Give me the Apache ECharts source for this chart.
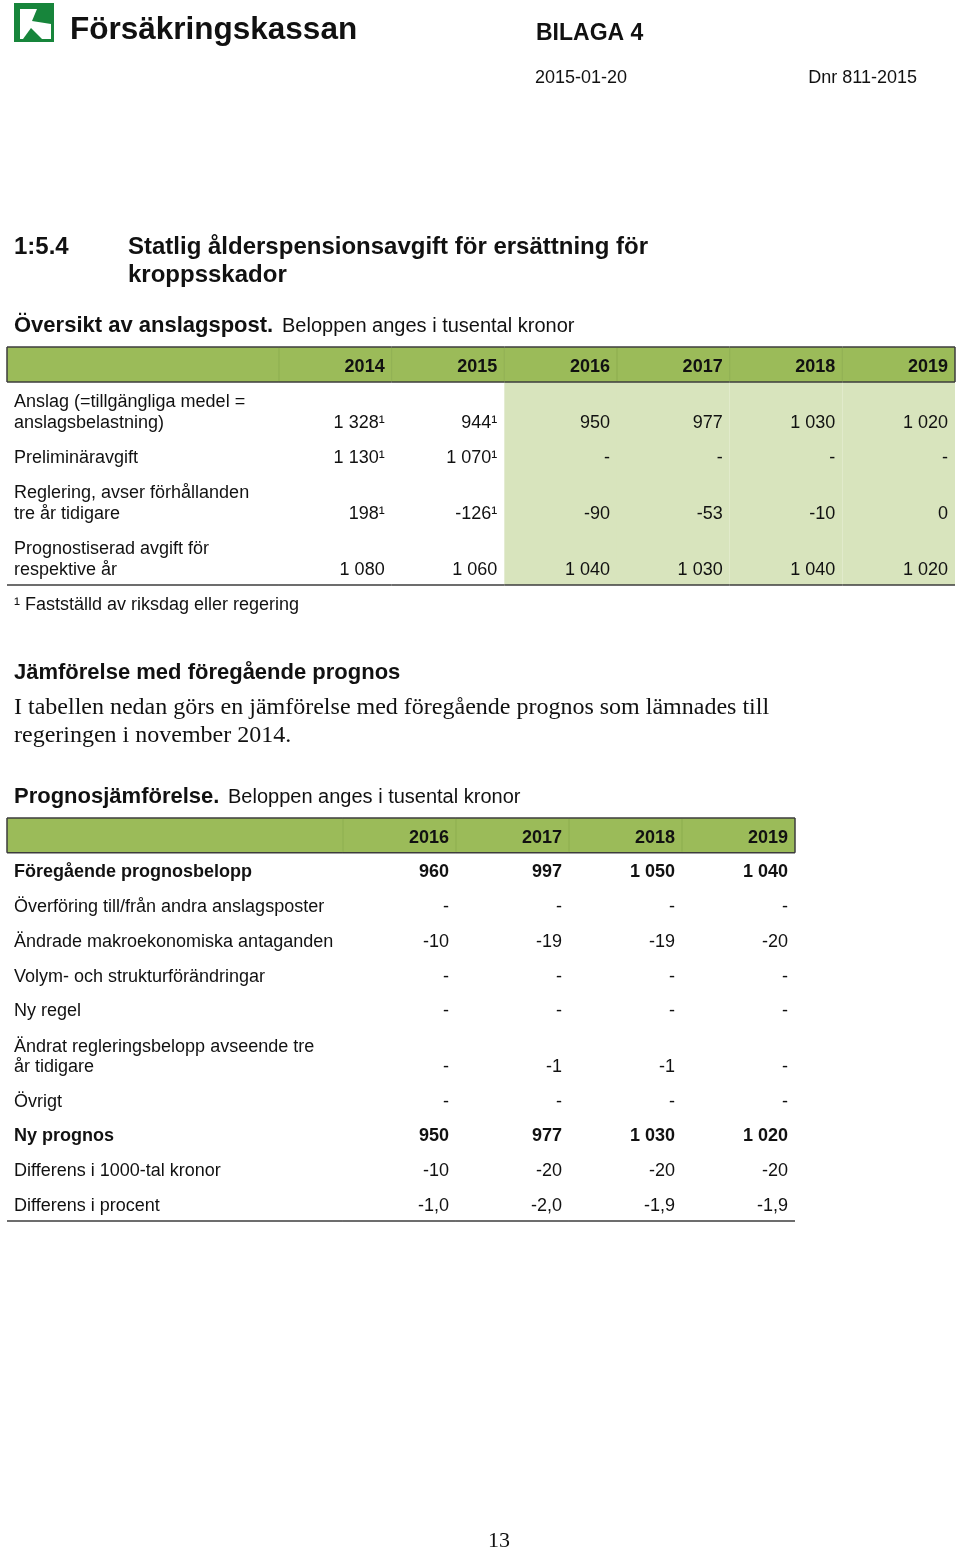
<!DOCTYPE html>
<html><head><meta charset="utf-8">
<script src="https://cdn.jsdelivr.net/npm/echarts@6/dist/echarts.min.js"></script>
<style>html,body{margin:0;padding:0;background:#fff}#c{width:960px;height:1551px}</style>
</head><body><div id="c"></div>
<script>
// ---------- DATA ----------
const years1 = ['2014', '2015', '2016', '2017', '2018', '2019'];
const rowLabels1 = [
  ['Anslag (=tillgängliga medel =', 'anslagsbelastning)'],
  ['Preliminäravgift'],
  ['Reglering, avser förhållanden', 'tre år tidigare'],
  ['Prognostiserad avgift för', 'respektive år']
];
const anslag = [1328, 944, 950, 977, 1030, 1020];
const preliminaravgift = [1130, 1070, null, null, null, null];
const reglering = [198, -126, -90, -53, -10, 0];
const prognostiserad = [1080, 1060, 1040, 1030, 1040, 1020];
const faststalldYears = ['2014', '2015'];
const faststalldRows = [0, 1, 2];
const prognosYears1 = ['2016', '2017', '2018', '2019'];

const years2 = ['2016', '2017', '2018', '2019'];
const rowLabels2 = [
  ['Föregående prognosbelopp'],
  ['Överföring till/från andra anslagsposter'],
  ['Ändrade makroekonomiska antaganden'],
  ['Volym- och strukturförändringar'],
  ['Ny regel'],
  ['Ändrat regleringsbelopp avseende tre', 'år tidigare'],
  ['Övrigt'],
  ['Ny prognos'],
  ['Differens i 1000-tal kronor'],
  ['Differens i procent']
];
const foregaende = [960, 997, 1050, 1040];
const overforing = [null, null, null, null];
const makro = [-10, -19, -19, -20];
const volym = [null, null, null, null];
const nyRegel = [null, null, null, null];
const andratReglering = [null, -1, -1, null];
const ovrigt = [null, null, null, null];
const nyPrognos = [950, 977, 1030, 1020];
const diffKronor = [-10, -20, -20, -20];
const diffProcent = [-1.0, -2.0, -1.9, -1.9];
const boldRows2 = [0, 7];

// ---------- STYLE ----------
const SANS = '"Liberation Sans", Arial, Helvetica, sans-serif';
const SERIF = '"Liberation Serif", "Times New Roman", serif';
const GREEN = '#9BBB59';
const LIGHT = '#D8E4BD';
const BORDER = '#3c3c3c';
const TXT = '#111';
const DY = 2;

function fmtInt(v) {
  if (v === null || v === undefined) return '-';
  const s = Math.abs(v).toString().replace(/\B(?=(\d{3})+(?!\d))/g, ' ');
  return (v < 0 ? '-' : '') + s;
}
function fmtDec(v) {
  if (v === null || v === undefined) return '-';
  return v.toFixed(1).replace('.', ',');
}

function rowEdgesFor(labels) {
  const e = [0, 1];
  labels.forEach(l => e.push(e[e.length - 1] + (l.length > 1 ? 1.6 : 1)));
  return e;
}

// ---------- TABLE 1 cells ----------
const rows1 = [anslag, preliminaravgift, reglering, prognostiserad];
const edges1 = rowEdgesFor(rowLabels1);
const L1 = 2.414;
const cells1 = [];
cells1.push({c: 0, r: 0, header: true, lines: []});
years1.forEach((y, i) => cells1.push({c: i + 1, r: 0, header: true, lines: [y], bold: true}));
rowLabels1.forEach((lab, r) => {
  cells1.push({c: 0, r: r + 1, lines: lab, last: r === rowLabels1.length - 1});
  years1.forEach((y, i) => {
    let t = fmtInt(rows1[r][i]);
    if (faststalldRows.includes(r) && faststalldYears.includes(y)) t += '¹';
    cells1.push({c: i + 1, r: r + 1, lines: [t], right: true,
      fill: prognosYears1.includes(y) ? LIGHT : null, last: r === rowLabels1.length - 1});
  });
});

// ---------- TABLE 2 cells ----------
const rows2 = [foregaende, overforing, makro, volym, nyRegel, andratReglering, ovrigt, nyPrognos, diffKronor, diffProcent];
const edges2 = rowEdgesFor(rowLabels2);
const L2 = 2.973;
const cells2 = [];
cells2.push({c: 0, r: 0, header: true, lines: []});
years2.forEach((y, i) => cells2.push({c: i + 1, r: 0, header: true, lines: [y], bold: true}));
rowLabels2.forEach((lab, r) => {
  const b = boldRows2.includes(r);
  const last = r === rowLabels2.length - 1;
  cells2.push({c: 0, r: r + 1, lines: lab, bold: b, last});
  years2.forEach((y, i) => {
    const v = rows2[r][i];
    const t = rows2[r] === diffProcent ? fmtDec(v) : fmtInt(v);
    cells2.push({c: i + 1, r: r + 1, lines: [t], right: true, bold: b, last});
  });
});

function makeRender(cells, L, edges, nCols) {
  return function (params, api) {
    const cell = cells[params.dataIndex];
    const x0u = cell.c === 0 ? 0 : L + cell.c - 1;
    const x1u = cell.c === 0 ? L : L + cell.c;
    const p0 = api.coord([x0u, edges[cell.r]]);
    const p1 = api.coord([x1u, edges[cell.r + 1]]);
    const x0 = p0[0], y0 = p0[1], x1 = p1[0], y1 = p1[1];
    const ch = [];
    const fill = cell.header ? GREEN : cell.fill;
    if (fill) ch.push({type: 'rect', z2: 0, shape: {x: x0, y: y0, width: x1 - x0, height: y1 - y0}, style: {fill}});
    const line = (a, b, c, d, col, w) => ch.push({type: 'line', z2: 10, shape: {x1: a, y1: b, x2: c, y2: d}, style: {stroke: col, lineWidth: w}});
    if (cell.header) {
      line(x0, y0, x1, y0, BORDER, 1.5);
      line(x0, y1, x1, y1, BORDER, 1.5);
      if (cell.c === 0) line(x0, y0, x0, y1, BORDER, 1.5);
      else line(x0, y0 + 1, x0, y1 - 1, '#8DAE4E', 1);
      if (cell.c === nCols) line(x1, y0, x1, y1, BORDER, 1.5);
    }
    if (cell.last) line(x0, y1, x1, y1, BORDER, 1.5);
    const font = (cell.bold ? 'bold ' : '') + '18px ' + SANS;
    const n = cell.lines.length;
    cell.lines.forEach((t, k) => {
      const cy = DY + (cell.header ? (y0 + y1) / 2 + 1 : y1 - 17 - (n - 1 - k) * 20.5);
      ch.push({type: 'text', z2: 20, style: {
        text: t, x: cell.right || cell.header ? x1 - 7 : x0 + 7, y: cy,
        textAlign: cell.right || cell.header ? 'right' : 'left', textVerticalAlign: 'middle',
        font, fill: TXT}});
    });
    return {type: 'group', children: ch};
  };
}

// ---------- PAGE TEXT ----------
function txt(x, y, text, font, align) {
  return {type: 'text', x, y: y + DY, style: {text, font, fill: TXT, textAlign: align || 'left', textVerticalAlign: 'middle'}};
}

const LOGO = '#17853B';
const graphic = [
  // logo
  {type: 'rect', shape: {x: 14, y: 3, width: 40, height: 39}, style: {fill: LOGO}},
  {type: 'rect', shape: {x: 20, y: 9, width: 31, height: 30}, style: {fill: '#fff'}},
  {type: 'polygon', shape: {points: [[37, 9], [51, 9], [51, 24], [32, 21]]}, style: {fill: LOGO}},
  {type: 'polygon', shape: {points: [[23, 39], [42, 39], [31, 28]]}, style: {fill: LOGO}},
  txt(70, 28, 'Försäkringskassan', 'bold 31.5px ' + SANS),
  txt(536, 32, 'BILAGA 4', 'bold 23px ' + SANS),
  txt(535, 76, '2015-01-20', '18px ' + SANS),
  txt(917, 76, 'Dnr 811-2015', '18px ' + SANS, 'right'),
  txt(14, 245, '1:5.4', 'bold 24px ' + SANS),
  txt(128, 245, 'Statlig ålderspensionsavgift för ersättning för', 'bold 24px ' + SANS),
  txt(128, 273, 'kroppsskador', 'bold 24px ' + SANS),
  txt(14, 324, 'Översikt av anslagspost.', 'bold 22px ' + SANS),
  txt(282, 324, 'Beloppen anges i tusental kronor', '20px ' + SANS),
  txt(14, 603, '¹ Fastställd av riksdag eller regering', '18px ' + SANS),
  txt(14, 671, 'Jämförelse med föregående prognos', 'bold 22px ' + SANS),
  txt(14, 706, 'I tabellen nedan görs en jämförelse med föregående prognos som lämnades till', '24px ' + SERIF),
  txt(14, 734, 'regeringen i november 2014.', '24px ' + SERIF),
  txt(14, 795, 'Prognosjämförelse.', 'bold 22px ' + SANS),
  txt(228, 795, 'Beloppen anges i tusental kronor', '20px ' + SANS),
  txt(499, 1539, '13', '22px ' + SERIF, 'center')
];

const chart = echarts.init(document.getElementById('c'), null, {renderer: 'canvas'});
chart.setOption({
  backgroundColor: '#fff',
  animation: false,
  grid: [
    {left: 7, top: 347, width: 948, height: 238},
    {left: 7, top: 818, width: 788, height: 403}
  ],
  xAxis: [
    {gridIndex: 0, type: 'value', min: 0, max: L1 + years1.length, show: false},
    {gridIndex: 1, type: 'value', min: 0, max: L2 + years2.length, show: false}
  ],
  yAxis: [
    {gridIndex: 0, type: 'value', min: 0, max: edges1[edges1.length - 1], inverse: true, show: false},
    {gridIndex: 1, type: 'value', min: 0, max: edges2[edges2.length - 1], inverse: true, show: false}
  ],
  series: [
    {type: 'custom', xAxisIndex: 0, yAxisIndex: 0, silent: true, clip: false,
      renderItem: makeRender(cells1, L1, edges1, years1.length),
      data: cells1.map(c => [c.c, c.r])},
    {type: 'custom', xAxisIndex: 1, yAxisIndex: 1, silent: true, clip: false,
      renderItem: makeRender(cells2, L2, edges2, years2.length),
      data: cells2.map(c => [c.c, c.r])}
  ],
  graphic: graphic
});
</script>
</body></html>
